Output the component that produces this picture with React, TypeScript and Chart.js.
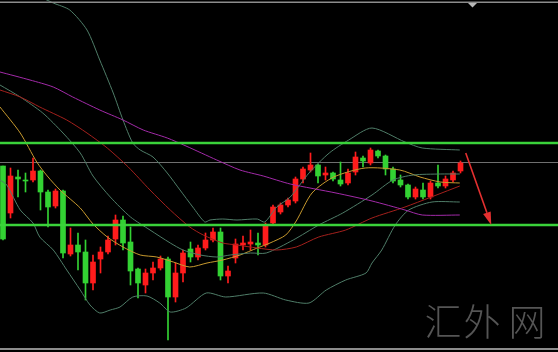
import React, { useEffect, useRef } from "react";
import { Chart, registerables } from "chart.js";

Chart.register(...registerables);

const W = 558;
const H = 352;

// ---- candle data (index = bar number) ----
const opens = [2184,2137,2173,2170,2170,2179,2158,2144,2159,2096,2105,2098,2067,2091,2098,2111,2130,2108,2081,2065,2077,2082,2091,2053,2077,2101,2093,2102,2110,2118,2074,2092,2105,2106,2107,2105,2127,2138,2145,2149,2171,2180,2185,2175,2177,2170,2167,2178,2192,2187,2199,2194,2181,2170,2165,2153,2160,2153,2167,2164,2170,2179];
const highs = [2184,2182,2180,2177,2192,2180,2160,2161,2160,2122,2117,2110,2095,2103,2114,2135,2134,2123,2082,2081,2088,2094,2093,2087,2100,2108,2105,2117,2122,2122,2084,2111,2114,2120,2117,2127,2145,2147,2152,2173,2183,2197,2186,2183,2178,2188,2181,2198,2194,2202,2200,2195,2183,2175,2166,2163,2167,2169,2185,2174,2179,2189];
const lows = [2110,2132,2153,2158,2168,2140,2123,2142,2092,2094,2080,2050,2060,2077,2096,2105,2100,2065,2052,2057,2070,2080,2010,2048,2068,2088,2090,2100,2108,2070,2067,2087,2100,2100,2095,2103,2125,2136,2143,2147,2167,2178,2167,2170,2169,2164,2165,2175,2183,2185,2192,2175,2167,2163,2151,2151,2151,2151,2162,2162,2168,2177];
const closes = [2111,2174,2171,2169,2179,2158,2143,2159,2097,2105,2098,2067,2088,2098,2110,2130,2107,2079,2067,2077,2082,2091,2053,2077,2097,2093,2102,2110,2118,2074,2079,2106,2107,2108,2105,2125,2143,2145,2150,2171,2181,2185,2174,2177,2171,2166,2177,2193,2189,2200,2194,2181,2169,2165,2153,2161,2153,2167,2164,2171,2177,2187];

// ---- indicator lines: [bar index, value] ----
const bbUpper: [number, number][] = [[3.6,2358],[6.7,2347],[8.9,2340],[11.2,2320],[12.9,2290],[14.7,2257],[16,2230],[17.3,2207],[18.3,2200],[20,2193],[21.9,2177],[23.6,2160],[25.3,2143],[26.9,2128],[27.6,2130],[29.3,2131],[31.2,2130],[33.9,2131],[34.9,2128],[36.5,2143],[38.3,2153],[40.8,2177],[43.5,2197],[46.1,2210],[49.2,2222],[53.6,2208],[55.9,2202],[60.9,2200]];
const bbMiddle: [number, number][] = [[-0.4,2265],[2.3,2253],[5.3,2237],[8,2217],[10.3,2197],[12,2174],[14.3,2153],[17,2133],[19.6,2120],[22.3,2107],[24,2100],[26.3,2095],[28.5,2093],[30.3,2095],[33,2097],[35.1,2097],[38.7,2110],[42.1,2125],[45.3,2137],[49.2,2155],[52,2170],[54.7,2175],[58.3,2176],[60.9,2176]];
const bbLower: [number, number][] = [[-0.4,2170],[0.5,2165],[2.3,2140],[4,2127],[4.9,2113],[6.7,2100],[8.5,2080],[10.3,2060],[11.6,2045],[12.9,2037],[14.3,2040],[15.6,2043],[17.3,2053],[19.2,2054],[20.9,2047],[22.3,2038],[24.4,2042],[27.1,2057],[29.7,2053],[34.7,2057],[37.7,2050],[40.8,2047],[43.1,2060],[45.7,2070],[48.4,2077],[49.2,2087],[50.5,2100],[52.3,2125],[54.1,2140],[57.2,2148],[60.9,2148]];
const maFast: [number, number][] = [[-0.4,2243],[2.3,2217],[4.5,2188],[5.9,2174],[7.6,2160],[10.3,2142],[12,2126],[13.9,2113],[16,2103],[18.3,2095],[20.5,2093],[22.7,2088],[24.9,2083],[27.2,2087],[29.3,2090],[31.6,2095],[33.9,2102],[35.6,2107],[37.7,2115],[39.1,2129],[41.2,2157],[44.1,2173],[48.3,2182],[52.9,2180],[55.6,2173],[58.3,2168],[60.9,2167]];
const maMid: [number, number][] = [[-0.4,2260],[2.3,2253],[4.9,2243],[8.5,2230],[11.2,2217],[13.9,2202],[16.7,2183],[19.6,2160],[22.3,2140],[24.9,2123],[26.7,2115],[29.3,2107],[31.2,2105],[33.9,2102],[36.5,2100],[39.1,2103],[42.1,2113],[45.7,2120],[49.2,2132],[53.6,2143],[60.9,2164]];
const maSlow: [number, number][] = [[-0.4,2278],[3.6,2270],[6.7,2263],[9.3,2253],[12.9,2240],[16,2230],[18.7,2220],[21.9,2212],[24.4,2204],[28.5,2190],[31.6,2180],[34.7,2174],[38.3,2166],[44.4,2157],[49.2,2149],[53.6,2140],[55.9,2135],[60.9,2135]];

// ---- levels and annotation ----
const resistanceLevel = 2207;
const supportLevel = 2125;
const lastPriceLevel = 2188;
const arrowFrom: [number, number] = [61.7, 2197];
const arrowTo: [number, number] = [65.1, 2125];
const watermark = ["汇", "外", "网"];

const X_MIN = -0.4;
const X_MAX = 74;
const Y_MIN = 1998;
const Y_MAX = 2350;

const UP = "#ff1c1c";
const DOWN = "#33d233";

const overlay = {
  id: "overlay",
  beforeDatasetsDraw(chart: any) {
    const { ctx, chartArea: a, scales } = chart;
    const y = scales.y;
    ctx.save();
    // watermark
    ctx.fillStyle = "#555555";
    ctx.font = '300 37px "Noto Sans CJK SC"';
    ctx.textAlign = "center";
    ctx.textBaseline = "middle";
    const cx = [a.right - 115, a.right - 76, a.right - 31];
    watermark.forEach((ch, k) => ctx.fillText(ch, cx[k], a.bottom - 30));
    // last price line
    const yp = Math.round(y.getPixelForValue(lastPriceLevel)) + 0.5;
    ctx.strokeStyle = "#6f6f6f";
    ctx.lineWidth = 1;
    ctx.beginPath();
    ctx.moveTo(a.left, yp);
    ctx.lineTo(a.right, yp);
    ctx.stroke();
    ctx.restore();
  },
  afterDatasetsDraw(chart: any) {
    const { ctx, chartArea: a, scales } = chart;
    const x = scales.x;
    const y = scales.y;
    ctx.save();
    // green levels
    ctx.strokeStyle = "#3ad23a";
    ctx.lineWidth = 2.6;
    [resistanceLevel, supportLevel].forEach((lv) => {
      const yy = y.getPixelForValue(lv);
      ctx.beginPath();
      ctx.moveTo(a.left, yy);
      ctx.lineTo(a.right, yy);
      ctx.stroke();
    });
    // arrow
    const x1 = x.getPixelForValue(arrowFrom[0]);
    const y1 = y.getPixelForValue(arrowFrom[1]);
    const x2 = x.getPixelForValue(arrowTo[0]);
    const y2 = y.getPixelForValue(arrowTo[1]);
    const ang = Math.atan2(y2 - y1, x2 - x1);
    const c = Math.cos(ang), s = Math.sin(ang);
    const hl = 13, hw = 4;
    ctx.strokeStyle = "#e43030";
    ctx.fillStyle = "#e43030";
    ctx.lineWidth = 1.6;
    ctx.beginPath();
    ctx.moveTo(x1, y1);
    ctx.lineTo(x2 - hl * c, y2 - hl * s);
    ctx.stroke();
    ctx.beginPath();
    ctx.moveTo(x2, y2);
    ctx.lineTo(x2 - hl * c - hw * s, y2 - hl * s + hw * c);
    ctx.lineTo(x2 - hl * c + hw * s, y2 - hl * s - hw * c);
    ctx.closePath();
    ctx.fill();
    // frame lines
    ctx.fillStyle = "#8c8c8c";
    ctx.fillRect(a.left, a.top + 1.5, a.right - a.left, 1.5);
    ctx.fillRect(a.left, a.bottom - 4, a.right - a.left, 2);
    // shift marker
    ctx.fillStyle = "#b8b8b8";
    ctx.beginPath();
    ctx.moveTo(a.left + 468, a.top + 3);
    ctx.lineTo(a.left + 477, a.top + 3);
    ctx.lineTo(a.left + 472.5, a.top + 7.5);
    ctx.closePath();
    ctx.fill();
    ctx.restore();
  },
};

function lineDs(pts: [number, number][], color: string) {
  return {
    type: "line" as const,
    data: pts.map(([i, v]) => ({ x: i, y: v })),
    borderColor: color,
    borderWidth: 1,
    pointRadius: 0,
    tension: 0.25,
    order: 0,
  };
}

export default function App() {
  const ref = useRef<HTMLCanvasElement | null>(null);
  useEffect(() => {
    if (!ref.current) return;
    const colors = closes.map((c, i) => (c >= opens[i] ? UP : DOWN));
    const chart = new Chart(ref.current, {
      type: "bar",
      data: {
        datasets: [
          lineDs(maSlow, "#a22aa8"),
          lineDs(maMid, "#a3201c"),
          lineDs(bbUpper, "#4f7d68"),
          lineDs(bbMiddle, "#4f7d68"),
          lineDs(bbLower, "#4f7d68"),
          lineDs(maFast, "#c89a2e"),
          {
            type: "bar",
            data: opens.map((o, i) => ({ x: i, y: [lows[i], highs[i]] })),
            backgroundColor: colors,
            barThickness: 1,
            grouped: false,
            order: 2,
          } as any,
          {
            type: "bar",
            data: opens.map((o, i) => ({ x: i, y: [o, closes[i]] })),
            backgroundColor: colors,
            barThickness: 5,
            minBarLength: 1,
            grouped: false,
            order: 1,
          } as any,
        ],
      },
      options: {
        animation: false,
        responsive: false,
        events: [],
        layout: { padding: 0 },
        plugins: { legend: { display: false }, tooltip: { enabled: false } },
        scales: {
          x: { type: "linear", min: X_MIN, max: X_MAX, display: false, offset: false },
          y: { type: "linear", min: Y_MIN, max: Y_MAX, display: false },
        },
      } as any,
      plugins: [overlay],
    });
    return () => chart.destroy();
  }, []);
  return (
    <div style={{ position: "fixed", left: 0, top: 0, width: W, height: H, background: "#000" }}>
      <canvas ref={ref} width={W} height={H} style={{ display: "block" }} />
    </div>
  );
}
